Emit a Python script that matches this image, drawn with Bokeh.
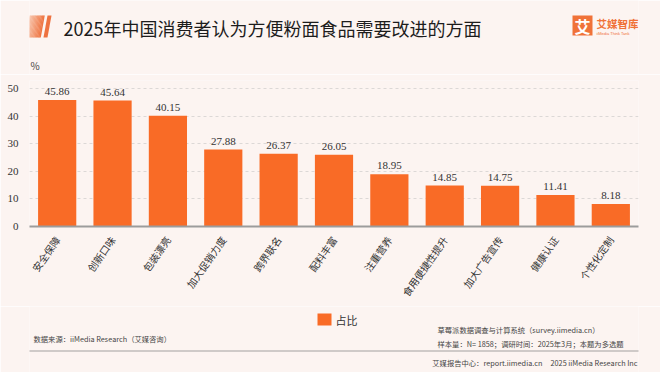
from bokeh.plotting import figure
from bokeh.layouts import column
from bokeh.models import Range1d, FixedTicker, ColumnDataSource
from bokeh.core.properties import value
from bokeh.embed import file_html
from bokeh.resources import INLINE

categories = ["安全保障", "创新口味", "包装漂亮", "加大促销力度", "跨界联名", "配料丰富",
              "注重营养", "食用便捷性提升", "加大广告宣传", "健康认证", "个性化定制"]
values = [45.86, 45.64, 40.15, 27.88, 26.37, 26.05, 18.95, 14.85, 14.75, 11.41, 8.18]
y_ticks = [0, 10, 20, 30, 40, 50]
series_name = "占比"

title_text = "2025年中国消费者认为方便粉面食品需要改进的方面"
source_text = "数据来源：iiMedia Research（艾媒咨询）"
note1 = "草莓派数据调查与计算系统（survey.iimedia.cn）"
note2 = "样本量：N= 1858；调研时间：2025年3月；本题为多选题"
footer = "艾媒报告中心：report.iimedia.cn\u00a0\u00a0\u00a0\u00a0\u00a02025 iiMedia Research Inc"

W = 660
H_HEAD, H_MAIN, H_FOOT = 74, 232, 66
FL, FR, FT, FB = 29, 638, 80, 230  # main plot frame edges (canvas px)

BG = "#fcf4f1"
ORANGE = "#f96b26"
LOGO = "#f07238"
FONT = "Noto Sans CJK SC"
NUMFONT = "Liberation Sans Narrow"


def band(height, y0):
    # same side borders as the main chart, so the frames line up in the column
    f = figure(width=W, height=height, output_backend="svg", toolbar_location=None,
               x_range=Range1d(FL, FR), y_range=Range1d(y0 + height, y0),
               x_axis_location=None, y_axis_location=None,
               min_border_left=FL, min_border_right=W - FR,
               min_border_top=0, min_border_bottom=0)
    f.background_fill_color = BG
    f.border_fill_color = BG
    f.outline_line_color = None
    f.grid.visible = False
    return f


def txt(f, x, y, s, size, color="#333333", align="left", font=FONT, bold=False):
    f.text(x=[x], y=[y], text=[s], text_font=value(font), text_font_size=size,
           text_color=color, text_align=align, text_baseline="middle",
           text_font_style="bold" if bold else "normal")


# ---------------- header ----------------
head = band(H_HEAD, 0)
n = 12
xs, ys, cols = [], [], []
for i in range(n):
    t0, t1 = i / n, (i + 1) / n + 0.02
    xa0, xa1 = 29 + 15 * t0, 29 + 15 * t1
    xs.append([xa0, xa1, xa1 - 4, xa0 - 4])
    ys.append([15, 15, 37, 37])
    t = i / (n - 1)
    r = int(248 + (239 - 248) * t)
    g = int(196 + (118 - 196) * t)
    b = int(170 + (68 - 170) * t)
    cols.append(f"#{r:02x}{g:02x}{b:02x}")
head.patches(xs=xs, ys=ys, fill_color=cols, line_color=None)
head.patch(x=[47, 51, 47, 43], y=[15, 15, 37, 37], fill_color="#ee7240", line_color=None)
txt(head, 63, 27.5, title_text, "18px", color="#1c1c1c")
txt(head, 30, 65, "%", "10px", color="#444444")

# logo
head.quad(left=[572], right=[592], top=[15], bottom=[35], fill_color=LOGO, line_color=None)
txt(head, 582, 25.5, "艾", "16px", color="#ffffff", align="center", bold=True)
txt(head, 596, 22.5, "艾媒智库", "10.5px", color=LOGO, bold=True)
txt(head, 596, 33, "iiMedia Think Tank", "4px", color=LOGO, font="Liberation Sans")

# ---------------- main chart ----------------
idx = list(range(len(categories)))
p = figure(width=W, height=H_MAIN, output_backend="svg", toolbar_location=None,
           x_range=Range1d(-0.5, len(categories) - 0.5),
           y_range=Range1d(0, 150 / 2.834),
           min_border_left=FL, min_border_right=W - FR,
           min_border_top=FT - H_HEAD, min_border_bottom=H_HEAD + H_MAIN - FB)
p.background_fill_color = BG
p.border_fill_color = BG
p.outline_line_color = None

src = ColumnDataSource(dict(x=idx, val=values, lab=[f"{v:.2f}" for v in values]))
p.vbar(x="x", top="val", width=0.69, source=src, color=ORANGE, line_color=None)
p.text(x="x", y="val", text="lab", source=src, text_align="center",
       text_baseline="bottom", y_offset=-5, text_font_size="11px",
       text_color="#333333", text_font=value(NUMFONT))

xa = p.xaxis[0]
xa.ticker = FixedTicker(ticks=idx)
xa.major_label_overrides = {i: c for i, c in zip(idx, categories)}
xa.axis_line_color = "#9c9c9c"
xa.axis_line_width = 2
xa.major_tick_line_color = None
xa.minor_tick_line_color = None
xa.major_label_orientation = 0.96
xa.major_label_text_font = FONT
xa.major_label_text_font_size = "10px"
xa.major_label_text_color = "#333333"
xa.major_label_standoff = 5

ya = p.yaxis[0]
ya.ticker = FixedTicker(ticks=y_ticks)
ya.axis_line_color = None
ya.major_tick_line_color = None
ya.minor_tick_line_color = None
ya.major_label_text_font = NUMFONT
ya.major_label_text_font_size = "11px"
ya.major_label_text_color = "#333333"
ya.major_label_standoff = 5

p.xgrid.grid_line_color = None
p.ygrid.grid_line_color = "#dcd8d6"
p.ygrid.grid_line_dash = "3 3"
p.ygrid.ticker = FixedTicker(ticks=y_ticks[1:])

# ---------------- footer ----------------
foot = band(H_FOOT, H_HEAD + H_MAIN)
foot.quad(left=[317], right=[331], top=[313], bottom=[325], fill_color=ORANGE, line_color=None)
txt(foot, 335, 319, series_name, "11px", color="#333333")
txt(foot, 33, 338, source_text, "7.3px", color="#444444")
txt(foot, 437, 329, note1, "7.3px", color="#444444")
txt(foot, 437, 343, note2, "7.3px", color="#444444")
foot.quad(left=[0], right=[W], top=[349.5], bottom=[351.5], fill_color="#cfcac8", line_color=None)
txt(foot, 637, 362, footer, "7.3px", color="#444444", align="right")

layout = column(head, p, foot, spacing=0)
open("out.html", "w").write(file_html(layout, INLINE))
